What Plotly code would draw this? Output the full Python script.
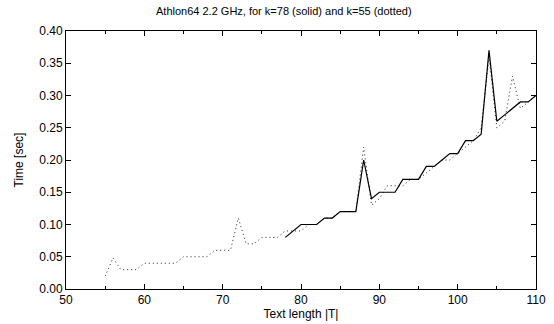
import plotly.graph_objects as go

# k=55 (dotted)
x_dotted = list(range(55, 111))
y_dotted = [0.020, 0.048, 0.030, 0.030, 0.030, 0.040, 0.040, 0.040, 0.040, 0.040,
            0.050, 0.050, 0.050, 0.050, 0.060, 0.060, 0.060, 0.110, 0.070, 0.070,
            0.080, 0.080, 0.080, 0.090, 0.090, 0.090, 0.100, 0.100, 0.110, 0.110,
            0.120, 0.120, 0.120, 0.220, 0.130, 0.140, 0.160, 0.160, 0.160, 0.170,
            0.170, 0.180, 0.190, 0.200, 0.200, 0.210, 0.220, 0.230, 0.250, 0.360,
            0.250, 0.260, 0.330, 0.280, 0.290, 0.300]

# k=78 (solid)
x_solid = list(range(78, 111))
y_solid = [0.08, 0.09, 0.10, 0.10, 0.10, 0.11, 0.11, 0.12, 0.12, 0.12,
           0.20, 0.14, 0.15, 0.15, 0.15, 0.17, 0.17, 0.17, 0.19, 0.19,
           0.20, 0.21, 0.21, 0.23, 0.23, 0.24, 0.37, 0.26, 0.27, 0.28,
           0.29, 0.29, 0.30]

title_text = "Athlon64 2.2 GHz, for k=78 (solid) and k=55 (dotted)"
x_label = "Text length |T|"
y_label = "Time [sec]"

fig = go.Figure()
fig.add_trace(go.Scatter(x=x_dotted, y=y_dotted, mode="lines",
                         line=dict(color="#222222", width=1, dash="1px,3px"),
                         showlegend=False, hoverinfo="skip"))
fig.add_trace(go.Scatter(x=x_solid, y=y_solid, mode="lines",
                         line=dict(color="black", width=1.2),
                         showlegend=False, hoverinfo="skip"))

font = "Liberation Sans, Arial, sans-serif"
fig.update_layout(
    width=554, height=324,
    margin=dict(l=66, r=18, t=31, b=35, autoexpand=False),
    paper_bgcolor="white", plot_bgcolor="white",
    font=dict(family=font, size=12, color="black"),
    annotations=[dict(text=title_text, xref="paper", yref="paper",
                      x=0.464, y=1, yshift=12, xanchor="center", yanchor="bottom",
                      showarrow=False, font=dict(size=11, family=font))],
)
fig.update_xaxes(
    range=[50, 110], tick0=50, dtick=10, ticks="inside", ticklen=5,
    tickcolor="black", showline=True, linecolor="black", linewidth=1,
    mirror="ticks", showgrid=False, zeroline=False, automargin=False,
    minor=dict(dtick=5, ticks="inside", ticklen=3, tickcolor="black", showgrid=False),
    title=dict(text=x_label, standoff=2, font=dict(size=12)),
    tickfont=dict(size=12),
)
fig.update_yaxes(
    range=[0, 0.40], tick0=0, dtick=0.05, tickformat=".2f",
    ticks="inside", ticklen=5, tickcolor="black",
    showline=True, linecolor="black", linewidth=1, mirror="ticks",
    showgrid=False, zeroline=False, automargin=False,
    title=dict(text=y_label, standoff=13, font=dict(size=12)),
    tickfont=dict(size=12),
)
fig.write_html("out.html", config={"displayModeBar": False, "staticPlot": True},
               post_script="document.body.style.margin='0';document.body.style.padding='0';")
